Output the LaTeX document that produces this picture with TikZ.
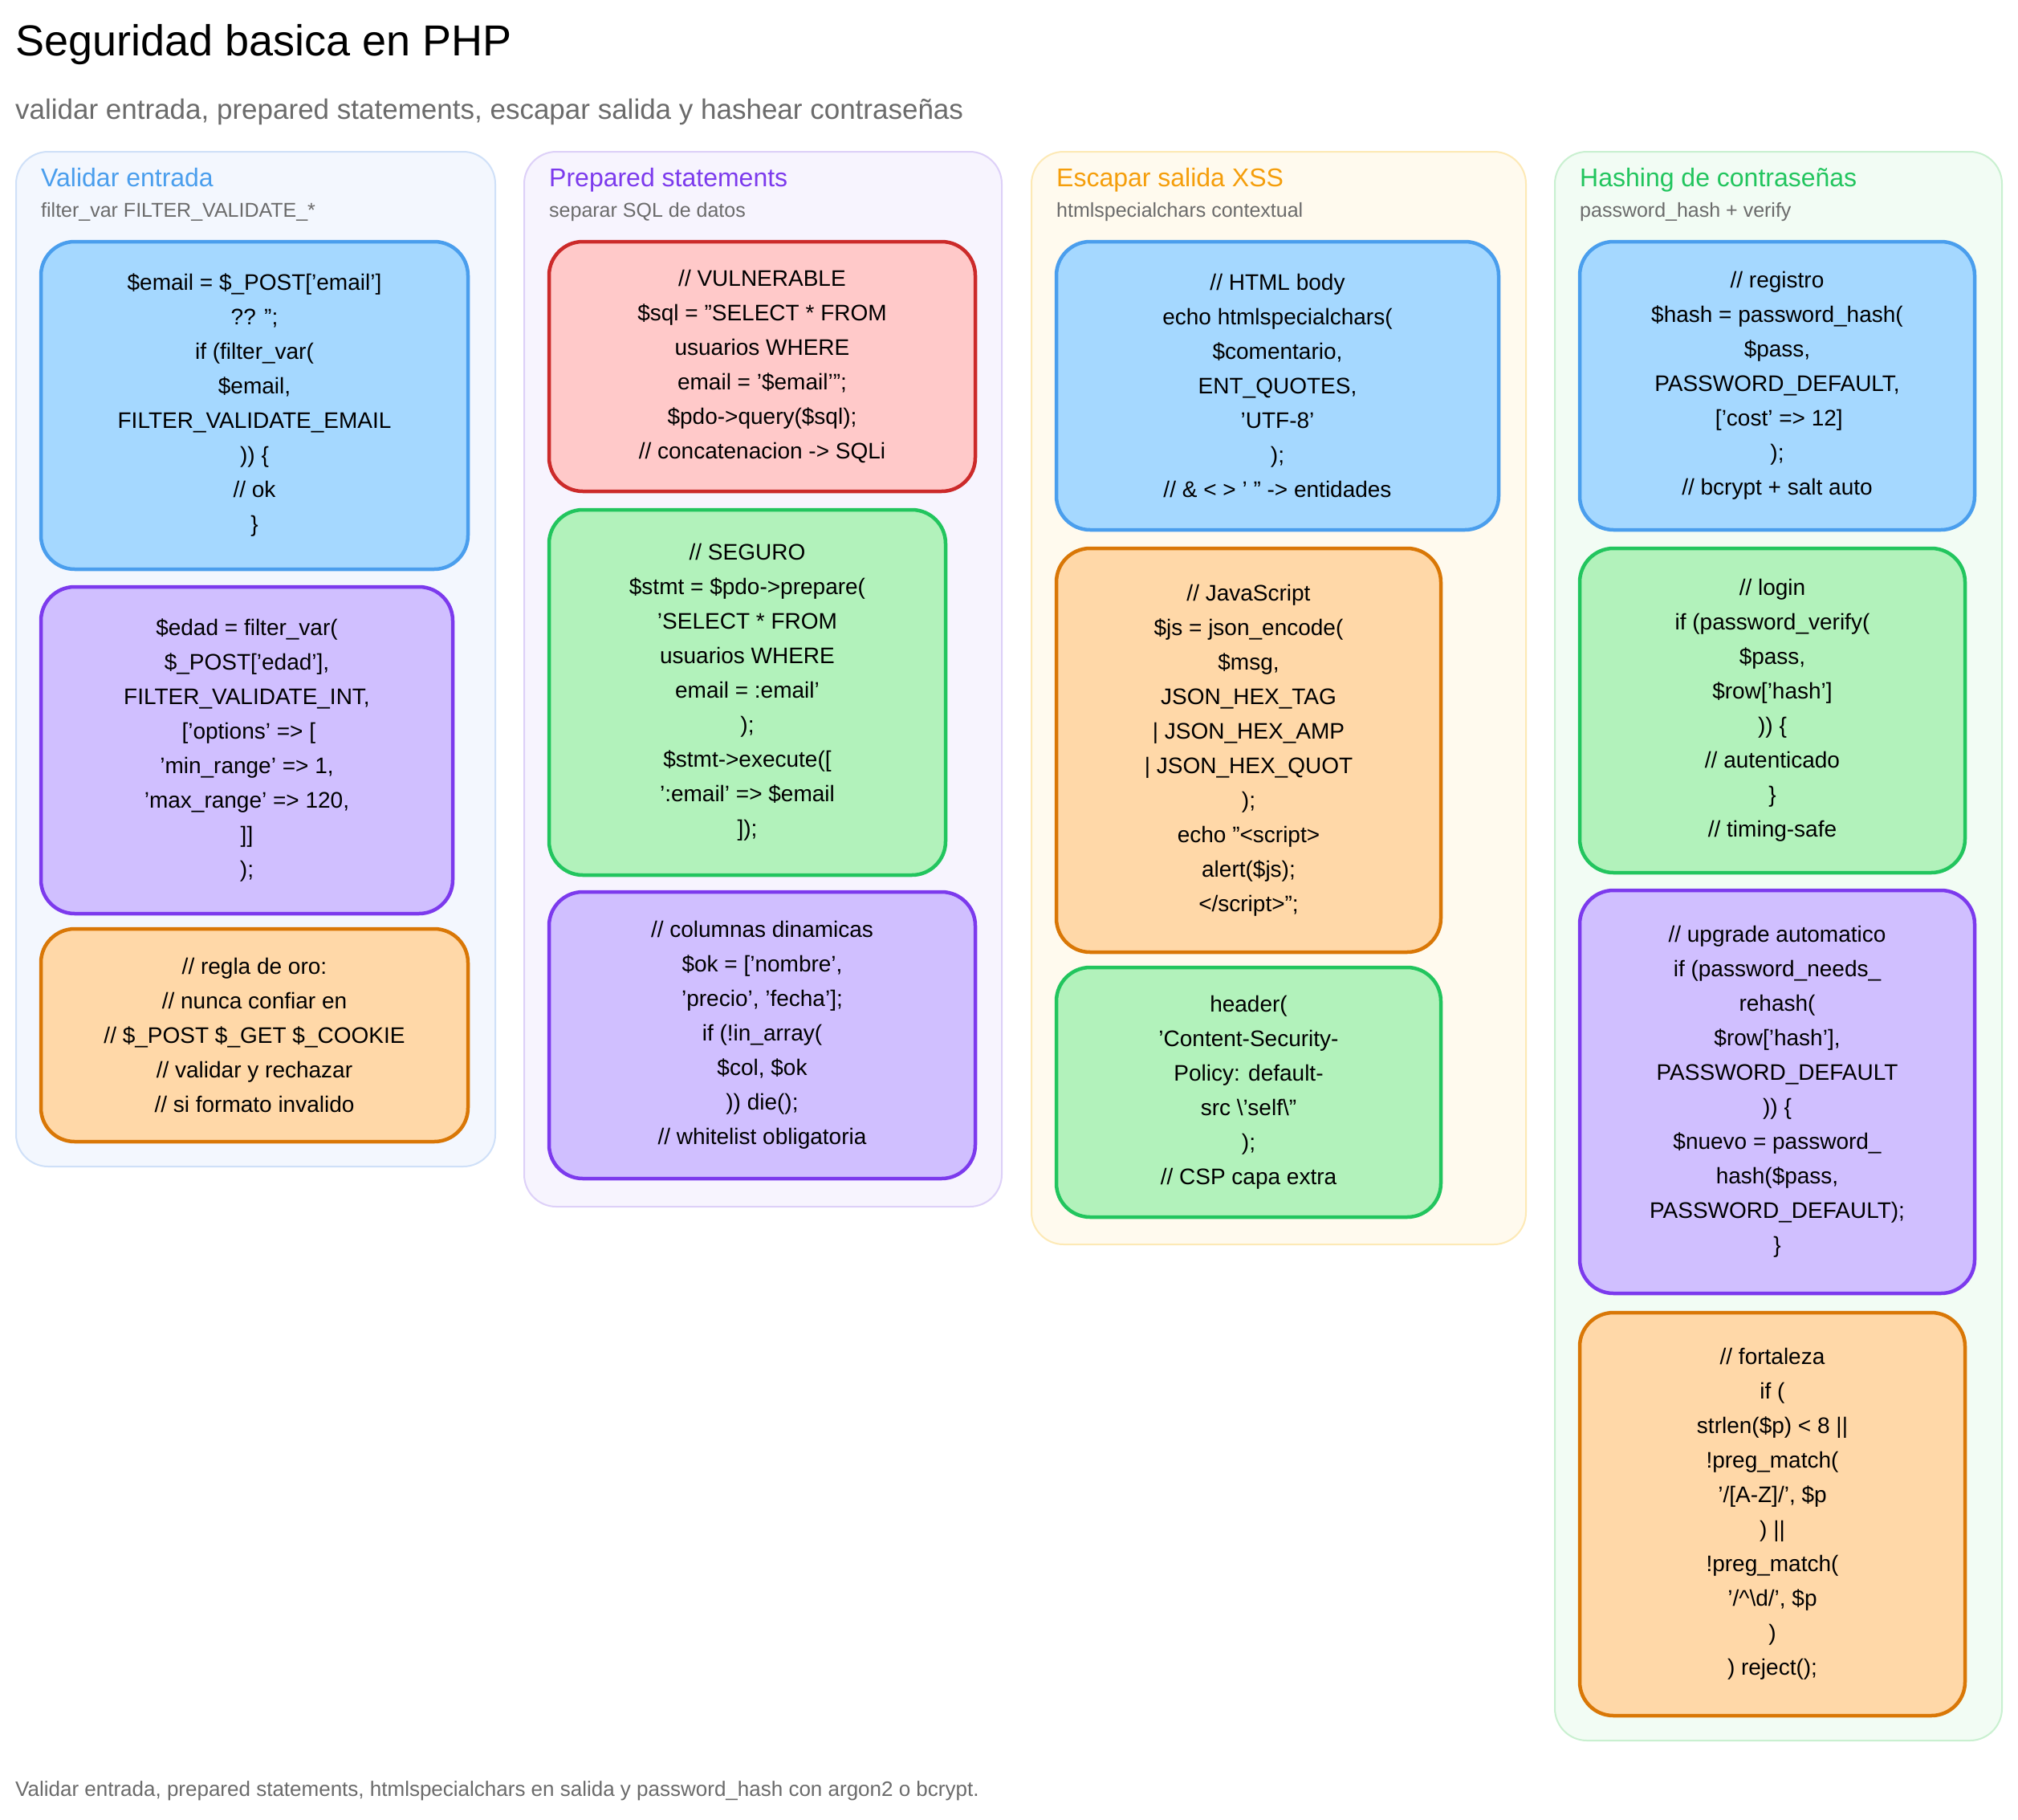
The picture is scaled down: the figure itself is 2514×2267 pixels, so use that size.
\documentclass[tikz,border=0pt]{standalone}
\usepackage{fontspec}
\setmainfont{Liberation Sans}
\definecolor{bF}{HTML}{A5D8FF}\definecolor{bS}{HTML}{4A9EED}
\definecolor{pF}{HTML}{D0BFFF}\definecolor{pS}{HTML}{7C3AED}
\definecolor{oF}{HTML}{FFD8A8}\definecolor{oS}{HTML}{D97706}
\definecolor{rF}{HTML}{FFC9C9}\definecolor{rS}{HTML}{CC2A2A}
\definecolor{gF}{HTML}{B2F2BB}\definecolor{gS}{HTML}{22C55E}
\definecolor{c1F}{HTML}{F3F7FE}\definecolor{c1S}{HTML}{CFE0F8}
\definecolor{c2F}{HTML}{F7F4FE}\definecolor{c2S}{HTML}{DDD0F8}
\definecolor{c3F}{HTML}{FFFAEE}\definecolor{c3S}{HTML}{FDE9B5}
\definecolor{c4F}{HTML}{F2FCF4}\definecolor{c4S}{HTML}{C9F0D0}
\definecolor{t3}{HTML}{F59E0B}\definecolor{greyt}{HTML}{6B6B6B}
\tikzset{
 colbox/.style={draw=#1S,fill=#1F,line width=2pt,rounded corners=40pt,anchor=north west,inner sep=0pt},
 codebox/.style={draw=#1S,fill=#1F,line width=4.5pt,rounded corners=42pt,align=center,inner sep=0pt,
   font=\fontsize{28}{43}\selectfont},
 coltitle/.style={anchor=base west,font=\fontsize{32}{36}\selectfont,inner sep=0pt},
 colsub/.style={anchor=base west,font=\fontsize{25}{30}\selectfont,text=greyt,inner sep=0pt},
}
\begin{document}
\begin{tikzpicture}[x=1pt,y=-1pt]
\useasboundingbox[fill=white] (0,0) rectangle (2514,2267);
\node[anchor=base west,inner sep=0pt,font=\fontsize{54}{60}\selectfont] (title) at (19,70) {Seguridad basica en PHP};
\node[anchor=base west,inner sep=0pt,font=\fontsize{35}{40}\selectfont,text=greyt] (sub) at (19,148) {validar entrada, prepared statements, escapar salida y hashear contraseñas};
\node[anchor=base west,inner sep=0pt,font=\fontsize{26}{30}\selectfont,text=greyt] (foot) at (19,2237) {Validar entrada, prepared statements, htmlspecialchars en salida y password\_hash con argon2 o bcrypt.};
% columns
\node[colbox=c1,minimum width=597pt,minimum height=1264pt] (col1) at (19,188) {};
\node[colbox=c2,minimum width=595pt,minimum height=1314pt] (col2) at (652,188) {};
\node[colbox=c3,minimum width=616pt,minimum height=1361pt] (col3) at (1284,188) {};
\node[colbox=c4,minimum width=557pt,minimum height=1979pt] (col4) at (1936,188) {};
\node[coltitle,text=bS] (h1) at (51,232) {Validar entrada};
\node[colsub] (s1) at (51,270) {filter\_var FILTER\_VALIDATE\_*};
\node[coltitle,text=pS] (h2) at (684,232) {Prepared statements};
\node[colsub] (s2) at (684,270) {separar SQL de datos};
\node[coltitle,text=t3] (h3) at (1316,232) {Escapar salida XSS};
\node[colsub] (s3) at (1316,270) {htmlspecialchars contextual};
\node[coltitle,text=gS] (h4) at (1968,232) {Hashing de contraseñas};
\node[colsub] (s4) at (1968,270) {password\_hash + verify};
% column 1
\node[codebox=b,minimum width=532pt,minimum height=408pt] (a1) at (317,505) {\$email = \$\_POST['email']\\?? '';\\if (filter\_var(\\\$email,\\FILTER\_VALIDATE\_EMAIL\\)) \{\\// ok\\\}};
\node[codebox=p,minimum width=513pt,minimum height=407pt] (a2) at (307.5,934.5) {\$edad = filter\_var(\\\$\_POST['edad'],\\FILTER\_VALIDATE\_INT,\\\,['options' => [\\'min\_range' => 1,\\'max\_range' => 120,\\]]\\);};
\node[codebox=o,minimum width=532pt,minimum height=265pt] (a3) at (317,1289.5) {// regla de oro:\\// nunca confiar en\\// \$\_POST \$\_GET \$\_COOKIE\\// validar y rechazar\\// si formato invalido};
% column 2
\node[codebox=r,minimum width=531pt,minimum height=311pt] (b1) at (949.5,456.5) {// VULNERABLE\\\$sql = "SELECT * FROM\\usuarios WHERE\\email = '\$email'";\\\$pdo->query(\$sql);\\// concatenacion -> SQLi};
\node[codebox=g,minimum width=494pt,minimum height=455pt] (b2) at (931,862.5) {// SEGURO\\\$stmt = \$pdo->prepare(\\'SELECT * FROM\\usuarios WHERE\\email = :email'\\);\\\$stmt->execute([\\':email' => \$email\\]);};
\node[codebox=p,minimum width=531pt,minimum height=357pt] (b3) at (949.5,1289.5) {// columnas dinamicas\\\$ok = ['nombre',\\'precio', 'fecha'];\\if (!in\_array(\\\$col, \$ok\\)) die();\\// whitelist obligatoria};
% column 3
\node[codebox=b,minimum width=551pt,minimum height=359pt] (c1) at (1591.5,480.5) {// HTML body\\echo htmlspecialchars(\\\$comentario,\\ENT\_QUOTES,\\'UTF-8'\\);\\// \& < > ' " -> entidades};
\node[codebox=o,minimum width=479pt,minimum height=503pt] (c2) at (1555.5,934.5) {// JavaScript\\\$js = json\_encode(\\\$msg,\\JSON\_HEX\_TAG\\| JSON\_HEX\_AMP\\| JSON\_HEX\_QUOT\\);\\echo "<script>\\alert(\$js);\\</script>";};
\node[codebox=g,minimum width=479pt,minimum height=311pt] (c3) at (1555.5,1360.5) {header(\\'Content-Security-\\Policy: default-\\src \textbackslash'self\textbackslash''\\);\\// CSP capa extra};
% column 4
\node[codebox=b,minimum width=492pt,minimum height=359pt] (d1) at (2214,480.5) {// registro\\\$hash = password\_hash(\\\$pass,\\PASSWORD\_DEFAULT,\\\,['cost' => 12]\\);\\// bcrypt + salt auto};
\node[codebox=g,minimum width=480pt,minimum height=404pt] (d2) at (2208,885) {// login\\if (password\_verify(\\\$pass,\\\$row['hash']\\)) \{\\// autenticado\\\}\\// timing-safe};
\node[codebox=p,minimum width=492pt,minimum height=502pt] (d3) at (2214,1360) {// upgrade automatico\\if (password\_needs\_\\rehash(\\\$row['hash'],\\PASSWORD\_DEFAULT\\)) \{\\\$nuevo = password\_\\hash(\$pass,\\PASSWORD\_DEFAULT);\\\}};
\node[codebox=o,minimum width=480pt,minimum height=502pt] (d4) at (2208,1886) {// fortaleza\\if (\\strlen(\$p) < 8 ||\\!preg\_match(\\'/[A-Z]/', \$p\\) ||\\!preg\_match(\\'/\textasciicircum\textbackslash d/', \$p\\)\\) reject();};
\end{tikzpicture}
\end{document}
